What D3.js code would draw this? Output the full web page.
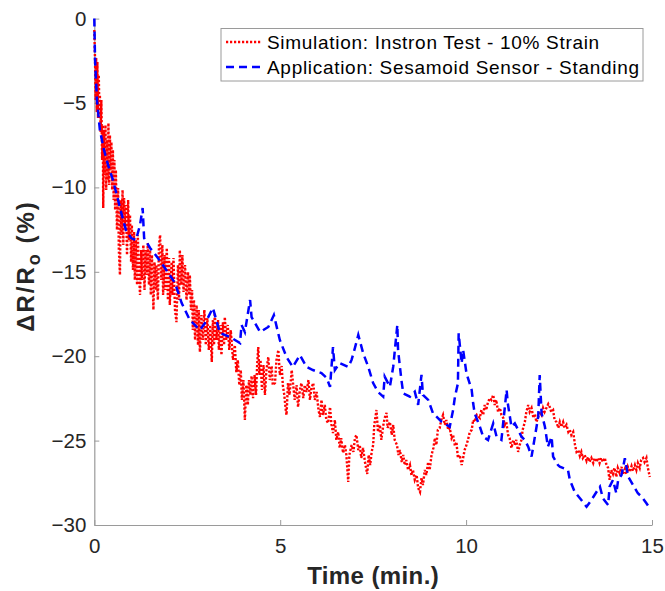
<!DOCTYPE html>
<html lang="en">
<head>
<meta charset="UTF-8">
<title>Delta R / Ro vs Time</title>
<style>
  html, body { margin: 0; padding: 0; background: #fff; }
  svg { display: block; font-family: "Liberation Sans", Arial, Helvetica, sans-serif; }
</style>
</head>
<body>
<div id="chart"></div>
<script src="https://d3js.org/d3.v7.min.js"></script>
<script>
// tick labels
const xTicks = [0, 5, 10, 15];
const yTicks = [0, -5, -10, -15, -20, -25, -30];

// series names
const seriesNames = ['Simulation: Instron Test - 10% Strain', 'Application: Sesamoid Sensor - Standing'];

// Simulation (red, dotted) – time in min, dR/Ro in %
const simTime = [0.00, 0.02, 0.035, 0.05, 0.067, 0.083, 0.10, 0.12, 0.14, 0.15, 0.17, 0.19, 0.21, 0.23, 0.24, 0.26, 0.28, 0.30, 0.32, 0.34,
  0.36, 0.38, 0.40, 0.42, 0.44, 0.46, 0.48, 0.50, 0.52, 0.54, 0.56, 0.58, 0.61, 0.64, 0.66, 0.69, 0.71, 0.73, 0.76, 0.78,
  0.80, 0.83, 0.85, 0.88, 0.91, 0.93, 0.96, 0.99, 1.01, 1.04, 1.07, 1.09, 1.12, 1.15, 1.17, 1.20, 1.23, 1.26, 1.28, 1.32,
  1.35, 1.38, 1.41, 1.44, 1.47, 1.50, 1.52, 1.55, 1.59, 1.62, 1.65, 1.67, 1.71, 1.74, 1.77, 1.80, 1.83, 1.85, 1.89, 1.91,
  1.95, 1.98, 2.01, 2.03, 2.08, 2.10, 2.13, 2.17, 2.21, 2.25, 2.28, 2.30, 2.34, 2.37, 2.40, 2.44, 2.48, 2.52, 2.55, 2.57,
  2.60, 2.63, 2.65, 2.68, 2.71, 2.75, 2.79, 2.81, 2.84, 2.88, 2.92, 2.96, 3.00, 3.04, 3.08, 3.12, 3.16, 3.19, 3.22, 3.24,
  3.28, 3.33, 3.35, 3.39, 3.42, 3.46, 3.49, 3.51, 3.55, 3.59, 3.63, 3.67, 3.73, 3.78, 3.82, 3.86, 3.90, 3.94, 3.97, 4.01,
  4.05, 4.09, 4.13, 4.16, 4.20, 4.23, 4.27, 4.31, 4.35, 4.38, 4.41, 4.44, 4.47, 4.51, 4.55, 4.59, 4.63, 4.68, 4.72, 4.77,
  4.80, 4.86, 4.90, 4.95, 4.99, 5.04, 5.07, 5.11, 5.15, 5.17, 5.21, 5.25, 5.31,
  5.39, 5.44, 5.48, 5.53, 5.57, 5.62, 5.66, 5.71, 5.76, 5.80, 5.84, 5.89, 5.93, 5.98, 6.03, 6.07, 6.11, 6.15, 6.20, 6.24,
  6.29, 6.34, 6.38, 6.42, 6.47, 6.51, 6.56, 6.60, 6.64, 6.69, 6.74, 6.78, 6.83, 6.86, 6.92, 6.97, 7.01, 7.05, 7.10, 7.14,
  7.18, 7.23, 7.28, 7.34, 7.38, 7.42, 7.46, 7.50, 7.53, 7.59, 7.63, 7.68, 7.72, 7.77, 7.81, 7.86, 7.89, 7.95, 8.00, 8.04,
  8.08, 8.14, 8.18, 8.22, 8.27, 8.31, 8.35, 8.39, 8.44, 8.49, 8.53, 8.57, 8.62, 8.67, 8.71, 8.76, 8.80, 8.84, 8.89, 8.93,
  8.98, 9.02, 9.07, 9.12, 9.16, 9.20, 9.24, 9.29, 9.33, 9.38, 9.43, 9.47, 9.52, 9.56, 9.61, 9.65, 9.70, 9.74, 9.78, 9.83,
  9.88, 9.92, 9.96, 10.01, 10.05, 10.10, 10.15, 10.19, 10.23, 10.29, 10.37, 10.41, 10.46, 10.50, 10.54, 10.59, 10.64, 10.68, 10.73, 10.77,
  10.81, 10.86, 10.91, 10.95, 11.00, 11.04, 11.08, 11.13, 11.17, 11.22, 11.27, 11.31, 11.35, 11.40, 11.44, 11.49, 11.52, 11.58, 11.62, 11.67,
  11.71, 11.76, 11.81, 11.85, 11.89, 11.93, 11.98, 12.03, 12.07, 12.11, 12.16, 12.21, 12.25, 12.29, 12.34, 12.38, 12.43, 12.48, 12.52, 12.56,
  12.61, 12.65, 12.70, 12.75, 12.79, 12.83, 12.88, 12.91, 12.93, 12.97, 13.02, 13.06, 13.10, 13.14, 13.19, 13.24, 13.28, 13.32, 13.37, 13.42,
  13.46, 13.50, 13.55, 13.59, 13.63, 13.68, 13.73, 13.77, 13.82, 13.84, 13.86, 13.90, 13.95, 13.99, 14.04, 14.08, 14.13, 14.18, 14.22, 14.27,
  14.31, 14.35, 14.40, 14.45, 14.49, 14.54, 14.58, 14.62, 14.67, 14.71, 14.76, 14.80, 14.85, 14.89, 14.94];
const simValue = [-0.68, -2.45, -4.82, -2.33, -5.53, -2.57, -5.89, -3.34, -5.71, -4.53, -6.72, -4.82, -8.38, -6.30, -11.22, -6.60, -9.27, -6.30, -10.15, -7.19,
  -9.56, -6.18, -9.86, -6.90, -8.97, -7.31, -10.15, -7.78, -10.75, -8.38, -11.34, -8.97, -12.52, -10.04, -13.71, -15.19, -10.75, -12.82, -10.15, -13.41,
  -10.63, -12.40, -11.04, -14.00, -10.75, -13.12, -11.63, -14.42, -12.23, -14.89, -12.64, -15.49, -13.12, -15.78, -12.82, -14.89, -16.37, -13.71, -15.49, -13.41,
  -16.08, -13.71, -15.19, -13.29, -15.78, -13.71, -16.37, -14.00, -17.26, -14.42, -16.08, -14.60, -16.67, -13.41, -12.82, -15.49, -13.41, -16.37, -14.00, -16.08,
  -13.59, -16.67, -14.18, -16.97, -14.42, -16.37, -14.18, -17.26, -17.98, -14.60, -16.67, -13.71, -15.78, -14.00, -16.20, -14.60, -16.67, -15.01, -16.37, -15.19,
  -17.26, -16.08, -18.45, -16.67, -19.04, -16.97, -19.34, -17.26, -19.75, -17.56, -19.04, -17.26, -19.34, -17.74, -19.63, -18.15, -20.34, -17.86, -19.34, -17.44,
  -19.04, -17.86, -19.63, -18.15, -19.93, -17.98, -19.34, -17.68, -19.04, -18.15, -19.63, -18.45, -20.22, -19.34, -20.94, -20.22, -21.71, -20.82, -22.59, -21.41,
  -23.78, -21.71, -22.89, -21.41, -22.30, -21.17, -22.48, -21.11, -22.30, -20.52, -19.46, -21.11, -20.22, -22.00, -20.52, -22.30, -20.82, -20.05, -21.41, -20.58,
  -21.71, -21.59, -20.22, -19.63, -21.11, -20.58, -21.71, -22.30, -23.19, -23.48, -21.59, -22.30, -20.82,
  -22.59, -21.71, -23.01, -22.00, -21.59, -22.48, -21.71, -22.12, -21.41, -22.59, -21.88, -21.59, -22.59, -22.12, -23.19, -23.60, -22.59, -23.48, -22.89, -23.78,
  -23.96, -23.01, -24.07, -24.55, -23.78, -24.96, -24.49, -25.44, -24.85, -25.73, -25.26, -25.85, -27.45, -25.85, -25.26, -25.67, -24.85, -24.67, -25.56, -25.26,
  -26.03, -25.44, -26.27, -26.98, -25.85, -26.45, -25.67, -25.26, -24.07, -23.19, -24.49, -24.07, -24.96, -24.13, -23.66, -23.36, -24.25, -23.90, -24.67, -24.07,
  -24.96, -25.26, -25.85, -25.56, -26.27, -25.85, -26.45, -26.15, -26.74, -26.45, -27.04, -26.74, -27.33, -27.04, -27.81, -28.04, -27.21, -27.63, -26.74, -27.04,
  -26.27, -26.74, -25.85, -25.44, -24.85, -25.26, -24.37, -24.25, -23.78, -23.48, -24.07, -23.78, -24.37, -24.25, -24.85, -24.67, -25.32, -25.08, -26.03, -25.85,
  -26.45, -26.03, -25.56, -25.26, -24.96, -24.49, -24.37, -23.78, -23.90, -23.48, -23.66, -23.19, -23.48, -22.89, -23.19, -22.71, -22.48, -22.59, -22.30, -22.89,
  -22.59, -23.30, -23.07, -23.48, -23.66, -24.07, -23.90, -24.67, -24.85, -25.44, -24.96, -25.26, -24.96, -25.67, -25.26, -24.96, -24.37, -23.90, -23.30, -22.89,
  -23.30, -23.07, -23.66, -23.42, -23.90, -23.66, -23.30, -23.48, -23.07, -23.30, -23.07, -22.83, -23.01, -23.30, -23.19, -23.78, -23.90, -24.25, -23.90, -24.19,
  -23.90, -24.25, -24.07, -24.49, -24.37, -24.67, -24.49, -24.96, -25.26, -25.67, -25.56, -25.91, -25.67, -26.03, -25.85, -26.21, -25.97, -26.27, -26.03, -26.33,
  -26.03, -26.27, -26.03, -26.33, -26.03, -26.27, -26.03, -26.39, -26.62, -27.04, -27.33, -26.74, -26.98, -26.62, -27.15, -26.62, -26.92, -26.56, -26.98, -26.68,
  -26.98, -26.56, -26.86, -26.51, -26.80, -26.45, -26.74, -26.33, -26.62, -26.15, -26.03, -26.27, -26.03, -26.62, -27.15];

// Application (blue, dashed)
const appTime = [0.00, 0.02, 0.07, 0.15, 0.26, 0.37, 0.50, 0.64, 0.74, 0.85, 0.99, 1.12, 1.23, 1.30, 1.34, 1.50, 1.71, 1.90, 2.17, 2.35,
  2.57, 2.84, 3.00, 3.19, 3.38, 3.65, 3.92, 3.96, 4.05, 4.19, 4.23, 4.46, 4.68, 4.83, 4.99, 5.17, 5.34, 5.53, 5.71, 5.88,
  6.11, 6.25, 6.34, 6.42, 6.47, 6.60, 6.83, 6.92, 7.01, 7.10, 7.23, 7.37, 7.50, 7.63, 7.77, 7.81, 7.95, 8.04, 8.15, 8.17,
  8.26, 8.31, 8.49, 8.62, 8.71, 8.80, 8.84, 8.98, 9.11, 9.34, 9.56, 9.65, 9.70, 9.78, 9.80, 9.88, 9.92, 10.01, 10.15, 10.19,
  10.23, 10.37, 10.46, 10.59, 10.73, 10.82, 10.95, 11.09, 11.12, 11.22, 11.31, 11.40, 11.49, 11.58, 11.67, 11.76, 11.85, 11.94, 11.98, 12.03,
  12.12, 12.20, 12.30, 12.34, 12.47, 12.52, 12.74, 12.79, 12.92, 13.10, 13.24, 13.37, 13.51, 13.60, 13.68, 13.82, 13.86, 13.95, 14.04, 14.09,
  14.18, 14.27, 14.36, 14.49, 14.62, 14.72, 14.85, 14.94];
const appValue = [0.00, -2.45, -4.82, -6.60, -7.78, -8.67, -9.56, -10.75, -11.63, -12.52, -13.00, -13.12, -12.23, -11.22, -13.00, -13.59, -14.18, -14.78, -15.66, -16.85,
  -17.86, -18.45, -17.97, -17.14, -18.63, -18.86, -19.22, -18.15, -18.57, -16.67, -17.68, -18.57, -18.27, -17.56, -19.04, -20.05, -20.64, -19.93, -20.64, -20.82,
  -21.00, -21.29, -21.82, -19.46, -20.82, -20.40, -20.64, -20.22, -19.51, -18.74, -19.81, -20.64, -21.59, -22.12, -22.40, -21.21, -21.81, -20.62, -18.15, -19.63,
  -21.41, -22.20, -22.40, -22.10, -22.89, -21.11, -22.30, -22.59, -23.38, -23.88, -24.18, -23.19, -22.40, -21.61, -18.64, -20.42, -19.63, -21.01, -22.00, -22.79,
  -23.38, -24.18, -24.77, -24.96, -23.98, -24.77, -24.96, -22.00, -22.77, -24.18, -23.98, -24.37, -24.77, -24.96, -25.36, -25.95, -24.77, -23.58, -21.11, -23.38,
  -24.18, -25.36, -24.77, -25.95, -26.45, -26.55, -26.74, -27.33, -28.03, -28.52, -28.92, -28.52, -28.03, -27.73, -28.42, -28.82, -27.73, -27.33, -28.12, -27.33,
  -27.04, -26.05, -27.14, -27.63, -28.12, -28.32, -28.71, -29.01];

const width = 665;
const height = 591;
const margin = { left: 94.3, right: 13, top: 18.6, bottom: 66 };
const axisColor = '#9a9a9a';
const textColor = '#262626';

const svg = d3.select('#chart').append('svg')
  .attr('width', width)
  .attr('height', height);

const x = d3.scaleLinear().domain([0, 15]).range([margin.left, width - margin.right]);
const y = d3.scaleLinear().domain([-30, 0]).range([height - margin.bottom, margin.top]);

// axes (MATLAB style, ticks inside)
const xAxis = svg.append('g')
  .attr('transform', `translate(0,${y(-30)})`)
  .call(d3.axisBottom(x).tickValues(xTicks).tickSize(-5).tickPadding(13.5).tickSizeOuter(0));
const yAxis = svg.append('g')
  .attr('transform', `translate(${x(0)},0)`)
  .call(d3.axisLeft(y).tickValues(yTicks).tickSize(-5).tickPadding(8).tickSizeOuter(0));

[xAxis, yAxis].forEach(g => {
  g.select('.domain').attr('stroke', axisColor).attr('stroke-width', 1.2);
  g.selectAll('.tick line').attr('stroke', axisColor).attr('stroke-width', 1);
  g.selectAll('.tick text').attr('fill', textColor).style('font-size', '20.5px')
    .style('font-family', '"Liberation Sans", Arial, sans-serif');
});

// data lines
const line = d3.line().x(d => x(d[0])).y(d => y(d[1]));
const simData = simTime.map((t, i) => [t, simValue[i]]);
const appData = appTime.map((t, i) => [t, appValue[i]]);

svg.append('path').datum(simData)
  .attr('d', line)
  .attr('fill', 'none')
  .attr('stroke', '#ff0000')
  .attr('stroke-width', 2.4)
  .attr('stroke-dasharray', '2.2,1.8');

svg.append('path').datum(appData)
  .attr('d', line)
  .attr('fill', 'none')
  .attr('stroke', '#0000ff')
  .attr('stroke-width', 2.5)
  .attr('stroke-dasharray', '8,5');

// axis labels
svg.append('text')
  .attr('x', x(7.5))
  .attr('y', 584)
  .attr('text-anchor', 'middle')
  .attr('fill', textColor)
  .style('font-size', '24px')
  .style('font-weight', 'bold')
  .style('letter-spacing', '0.4px')
  .text('Time (min.)');

const yl = svg.append('text')
  .attr('transform', 'translate(34,266) rotate(-90)')
  .attr('text-anchor', 'middle')
  .attr('fill', textColor)
  .style('font-size', '24px')
  .style('font-weight', 'bold')
  .style('letter-spacing', '2px');
yl.append('tspan').text('\u0394R/R');
yl.append('tspan').attr('dy', 6).style('font-size', '18px').text('o');
yl.append('tspan').attr('dy', -6).text(' (%)');

// legend
const legend = svg.append('g');
legend.append('rect')
  .attr('x', 221).attr('y', 28.5)
  .attr('width', 422).attr('height', 52.5)
  .attr('fill', '#fff')
  .attr('stroke', axisColor)
  .attr('stroke-width', 1);

const legendStyles = [
  { color: '#ff0000', dash: '2.2,1.8', w: 2.4 },
  { color: '#0000ff', dash: '8,5', w: 2.5 }
];
seriesNames.forEach((name, i) => {
  const ly = 42 + i * 25;
  legend.append('line')
    .attr('x1', 226).attr('x2', 262)
    .attr('y1', ly).attr('y2', ly)
    .attr('stroke', legendStyles[i].color)
    .attr('stroke-width', legendStyles[i].w)
    .attr('stroke-dasharray', legendStyles[i].dash);
  legend.append('text')
    .attr('x', 267).attr('y', ly + 6.5)
    .attr('fill', '#000')
    .style('font-size', '19px')
    .style('letter-spacing', '0.7px')
    .text(name);
});
</script>
</body>
</html>
